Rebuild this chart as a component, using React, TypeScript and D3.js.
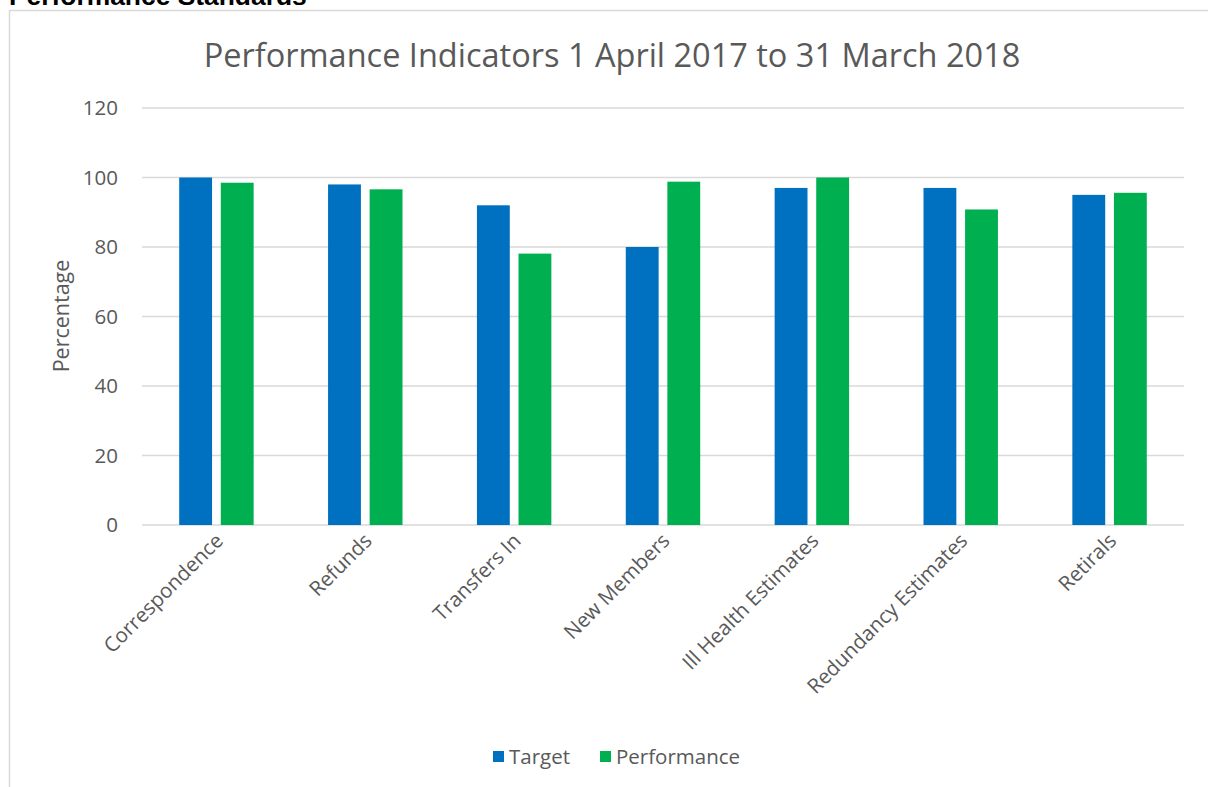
import * as React from 'react'
import { useEffect, useRef } from 'react'
import * as d3 from 'd3'

const categories = [
  'Correspondence',
  'Refunds',
  'Transfers In',
  'New Members',
  'Ill Health Estimates',
  'Redundancy Estimates',
  'Retirals',
]
const targetValues = [100, 98, 92, 80, 97, 97, 95]
const performanceValues = [98.5, 96.6, 78.1, 98.8, 100, 90.8, 95.6]
const seriesNames = ['Target', 'Performance']
const seriesColors = ['#0070C0', '#00B050']
const yTicks = [0, 20, 40, 60, 80, 100, 120]

const W = 1208
const H = 787
const margin = { top: 108, right: 24, bottom: 262, left: 142 }
const FONT = '"Open Sans", "Liberation Sans", sans-serif'
const TEXT = '#595959'
const GRID = '#d9d9d9'

const App = () => {
  const ref = useRef<SVGSVGElement | null>(null)

  useEffect(() => {
    const svg = d3.select(ref.current)
    svg.selectAll('*').remove()

    const x0 = d3.scaleBand<string>()
      .domain(categories)
      .range([margin.left, W - margin.right])
      .paddingInner(0.5)
      .paddingOuter(0.25)
    const x1 = d3.scaleBand<string>()
      .domain(seriesNames)
      .range([0, x0.bandwidth()])
      .paddingInner(0.21)
    const y = d3.scaleLinear().domain([0, 120]).range([H - margin.bottom, margin.top])

    // page heading, cut off at the top of the page
    svg.append('text')
      .attr('x', 9)
      .attr('y', 5)
      .attr('font-family', '"Liberation Sans", Arial, sans-serif')
      .attr('font-weight', 'bold')
      .attr('font-size', 26.4)
      .attr('fill', '#000')
      .text('Performance Standards')

    // chart frame (left and top edges visible)
    svg.append('path')
      .attr('d', `M9.5,${H} V10.5 H${W}`)
      .attr('fill', 'none')
      .attr('stroke', GRID)
      .attr('stroke-width', 1.5)

    svg.append('text')
      .attr('x', 612)
      .attr('y', 67)
      .attr('text-anchor', 'middle')
      .attr('font-family', FONT)
      .attr('font-size', 32.5)
      .attr('fill', TEXT)
      .text('Performance Indicators 1 April 2017 to 31 March 2018')

    // gridlines
    svg.append('g')
      .selectAll('line')
      .data(yTicks)
      .enter()
      .append('line')
      .attr('x1', margin.left)
      .attr('x2', W - margin.right)
      .attr('y1', d => y(d))
      .attr('y2', d => y(d))
      .attr('stroke', GRID)
      .attr('stroke-width', 1.5)

    // y tick labels
    svg.append('g')
      .selectAll('text')
      .data(yTicks)
      .enter()
      .append('text')
      .attr('x', 118)
      .attr('y', d => y(d))
      .attr('dy', '0.35em')
      .attr('text-anchor', 'end')
      .attr('font-family', FONT)
      .attr('font-size', 20.5)
      .attr('fill', TEXT)
      .text(d => d)

    svg.append('text')
      .attr('transform', `translate(69, 316) rotate(-90)`)
      .attr('text-anchor', 'middle')
      .attr('font-family', FONT)
      .attr('font-size', 21.5)
      .attr('fill', TEXT)
      .text('Percentage')

    // bars
    const groups = svg.append('g')
      .selectAll('g')
      .data(categories)
      .enter()
      .append('g')
      .attr('transform', d => `translate(${x0(d)}, 0)`)

    groups.selectAll('rect')
      .data((_, i) => [targetValues[i], performanceValues[i]].map((v, s) => ({ v, s })))
      .enter()
      .append('rect')
      // @ts-ignore
      .attr('x', d => x1(seriesNames[d.s]))
      .attr('y', d => y(d.v))
      .attr('width', x1.bandwidth())
      .attr('height', d => y(0) - y(d.v))
      .attr('fill', d => seriesColors[d.s])

    // x labels
    svg.append('g')
      .selectAll('text')
      .data(categories)
      .enter()
      .append('text')
      // @ts-ignore
      .attr('transform', d => `translate(${x0(d) + x0.bandwidth() / 2 + 8}, 542) rotate(-45)`)
      .attr('text-anchor', 'end')
      .attr('font-family', FONT)
      .attr('font-size', 20.5)
      .attr('fill', TEXT)
      .text(d => d)

    // legend
    const legendItems = [
      { name: seriesNames[0], x: 493 },
      { name: seriesNames[1], x: 600 },
    ]
    const lg = svg.append('g')
    legendItems.forEach((it, i) => {
      lg.append('rect')
        .attr('x', it.x)
        .attr('y', 751)
        .attr('width', 11)
        .attr('height', 11)
        .attr('fill', seriesColors[i])
      lg.append('text')
        .attr('x', it.x + 16)
        .attr('y', 757)
        .attr('dy', '0.35em')
        .attr('font-family', FONT)
        .attr('font-size', 20.5)
        .attr('fill', TEXT)
        .text(it.name)
    })
  }, [])

  return (
    <svg
      ref={ref}
      width={W}
      height={H}
      style={{ position: 'absolute', left: 0, top: 0, background: '#fff' }}
    />
  )
}

export default App
